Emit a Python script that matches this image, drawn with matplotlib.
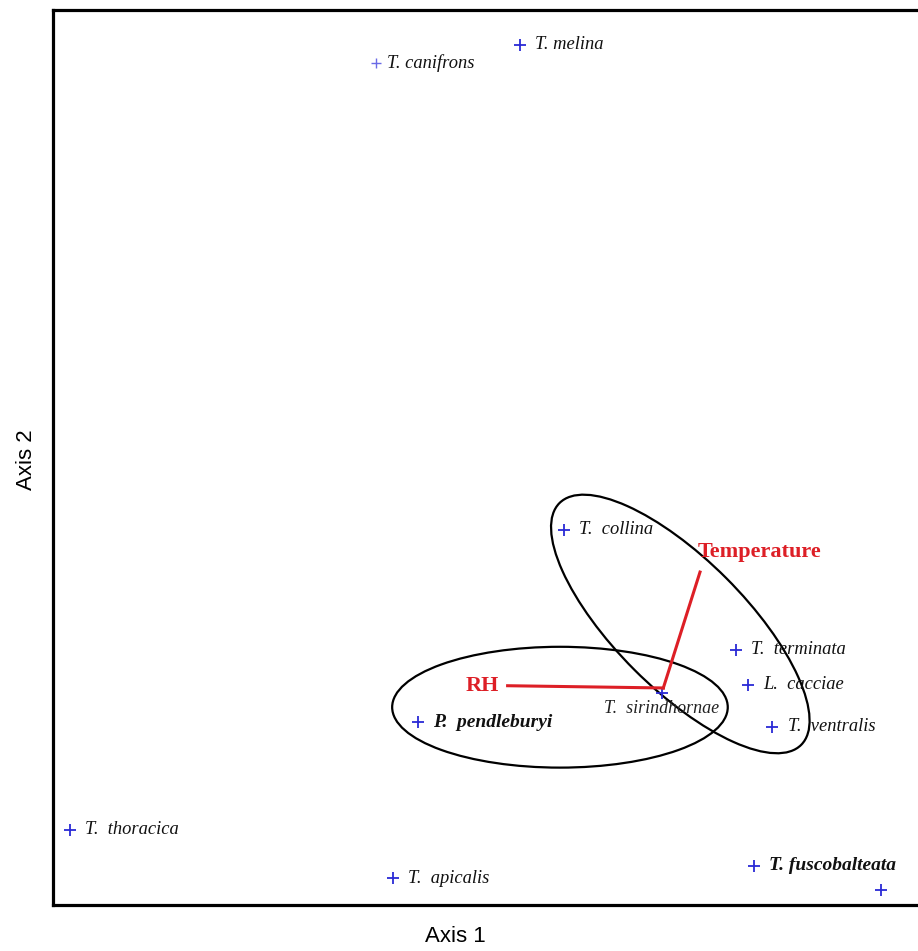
import matplotlib.pyplot as plt
from matplotlib.patches import Ellipse

# species scores on the two ordination axes
species = ['T. melina', 'T. canifrons', 'T.  collina', 'T.  terminata', 'L.  cacciae',
           'T.  ventralis', 'T.  sirindhornae', 'P.  pendleburyi', 'T.  thoracica',
           'T.  apicalis', 'T. fuscobalteata', '']
axis1 = [0.22, -1.39, 0.71, 2.63, 2.77, 3.04, 1.80, -0.92, -4.81, -1.20, 2.83, 4.25]
axis2 = [4.61, 4.41, -0.81, -2.15, -2.54, -3.01, -2.63, -2.96, -4.16, -4.70, -4.56, -4.83]
bold = ['P.  pendleburyi', 'T. fuscobalteata']

# environmental vectors (origin, tip)
vec_origin = (1.82, -2.575)
vec_names = ['RH', 'Temperature']
vec_x = [0.08, 2.23]
vec_y = [-2.55, -1.28]

# grouping ellipses: centre x, centre y, width, height, angle
ell_x = [0.665, 2.01]
ell_y = [-2.79, -1.86]
ell_w = [3.75, 3.82]
ell_h = [1.35, 1.45]
ell_a = [0, -45]

fig = plt.figure(figsize=(9.18, 9.51), dpi=100)
ax = fig.add_axes([53 / 918, 46 / 951, 877 / 918, 895 / 951])
ax.set_xlim(-5, 4.8)
ax.set_ylim(-5, 5)
ax.set_xticks([])
ax.set_yticks([])
for s in ['left', 'top', 'bottom']:
    ax.spines[s].set_linewidth(2.3)
ax.spines['right'].set_visible(False)

blue = '#2a2ad6'
for name, x, y in zip(species, axis1, axis2):
    small = name == 'T. canifrons'
    ax.plot(x, y, marker='+', ms=7 if small else 9, mew=1.0 if small else 1.3,
            color='#6a6ae6' if small else blue, ls='none')
    if not name:
        continue
    w = 'bold' if name in bold else 'normal'
    fs = 14 if name in bold else 13.3
    if 'sirindhornae' in name:
        ax.annotate(name, (x, y), xytext=(0, -11), textcoords='offset points',
                    ha='center', va='center', fontsize=13, style='italic',
                    family='Liberation Serif', color='#222222')
    else:
        ax.annotate(name, (x, y), xytext=(11 if not small else 8, 0),
                    textcoords='offset points', ha='left', va='center',
                    fontsize=fs, style='italic', weight=w,
                    family='Liberation Serif', color='#111111')

red = '#dd1f26'
for name, x, y in zip(vec_names, vec_x, vec_y):
    ax.plot([vec_origin[0], x], [vec_origin[1], y], color=red, lw=2.2)
ax.text(vec_x[0] - 0.1, vec_y[0], vec_names[0], ha='right', va='center',
        color=red, fontsize=16, weight='bold', family='Liberation Serif')
ax.text(vec_x[1] - 0.03, vec_y[1] + 0.22, vec_names[1], ha='left', va='center',
        color=red, fontsize=16, weight='bold', family='Liberation Serif')

for x, y, w, h, a in zip(ell_x, ell_y, ell_w, ell_h, ell_a):
    ax.add_patch(Ellipse((x, y), w, h, angle=a, fill=False, ec='black', lw=1.6))

fig.text(455 / 918, 1 - 936 / 951, 'Axis 1', ha='center', va='center',
         fontsize=16, family='Liberation Sans')
fig.text(27 / 918, 1 - 460 / 951, 'Axis 2', ha='center', va='center',
         rotation=90, fontsize=16, family='Liberation Sans')

fig.savefig('out.png', dpi=100)
